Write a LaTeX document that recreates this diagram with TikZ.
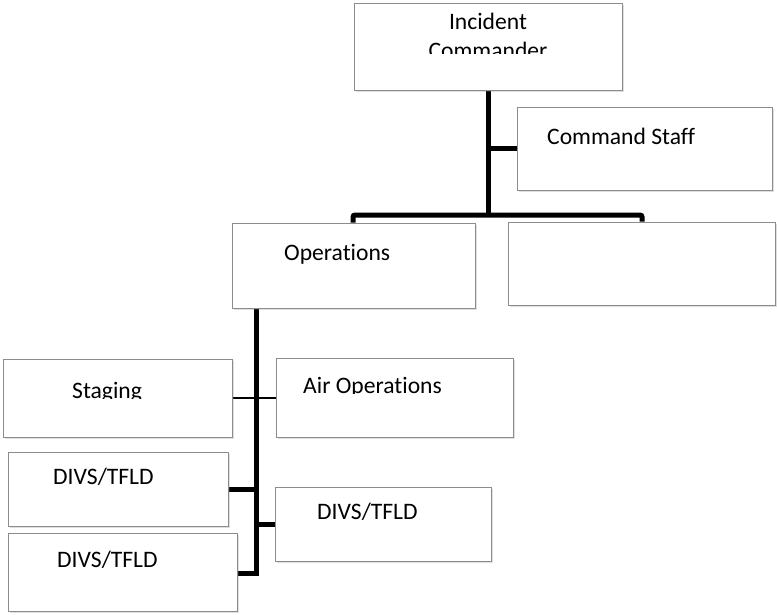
\documentclass[tikz,border=0pt]{standalone}
\usepackage{fontspec}
\setmainfont{Carlito}[Ligatures={NoCommon}]
\usetikzlibrary{shadows,backgrounds}
\begin{document}
\begin{tikzpicture}[x=1pt,y=-1pt,
  box/.style={draw=black!45, line width=1pt, fill=white, rectangle, inner sep=0pt,
    drop shadow={opacity=0.25, shadow xshift=1.5pt, shadow yshift=-1.5pt}},
  txt/.style={inner sep=0pt, anchor=base west, font=\fontsize{23.6}{29}\selectfont},
  thickline/.style={line width=5pt, black},
  thinline/.style={line width=1.5pt, black}]
\useasboundingbox (0,0) rectangle (777,614);
% boxes
\node[box, minimum width=268, minimum height=87] (ic)  at (488,46.5) {};
\node[box, minimum width=255, minimum height=83] (cs)  at (644.5,148.5) {};
\node[box, minimum width=243, minimum height=85] (ops) at (353.5,265.5) {};
\node[box, minimum width=267, minimum height=83] (rb)  at (641.5,263.5) {};
\node[box, minimum width=229, minimum height=78] (stg) at (117.5,398) {};
\node[box, minimum width=237, minimum height=79] (air) at (394.5,397.5) {};
\node[box, minimum width=220, minimum height=74] (d1)  at (118,489) {};
\node[box, minimum width=229, minimum height=78] (d2)  at (122.5,572) {};
\node[box, minimum width=216, minimum height=74] (d3)  at (383,524) {};
% texts
\begin{scope}
  \clip (356,5) rectangle (620,53);
  \node[txt, anchor=base] (ict1) at (488,29) {Incident};
  \node[txt, anchor=base] (ict2) at (488,58) {Commander};
\end{scope}
\node[txt] (cst) at (547,144) {Command Staff};
\node[txt] (opst) at (284,260) {Operations};
\begin{scope}
  \clip (5,361) rectangle (230,398.5);
  \node[txt] (stgt) at (72,398) {Staging};
\end{scope}
\begin{scope}
  \clip (278,360) rectangle (511,393.5);
  \node[txt] (airt) at (303,393) {Air Operations};
\end{scope}
\node[txt] (d1t) at (53,484) {DIVS/TFLD};
\node[txt] (d2t) at (57,567) {DIVS/TFLD};
\node[txt] (d3t) at (317,519) {DIVS/TFLD};
% connectors
\coordinate (jt) at (488,215);
\coordinate (jl) at (353,215);
\coordinate (jr) at (642,215);
\coordinate (ov) at (256,573);
\begin{scope}[on background layer]
  \draw[thickline] (ic.south) -- (jt);
  \draw[thickline] (ic.south |- cs.west) -- (cs.west);
  \draw[thickline, rounded corners=2pt] (ops.north -| jl) -- (jl) -- (jr) -- (rb.north -| jr);
  \draw[thickline] (ops.south -| ov) -- (ov) -- (ov -| d2.east);
  \draw[thinline] (stg.east) -- (stg.east -| air.west);
  \draw[thickline] (d1.east) -- (d1.east -| ov);
  \draw[thickline] (d3.west) -- (d3.west -| ov);
\end{scope}
\end{tikzpicture}
\end{document}
